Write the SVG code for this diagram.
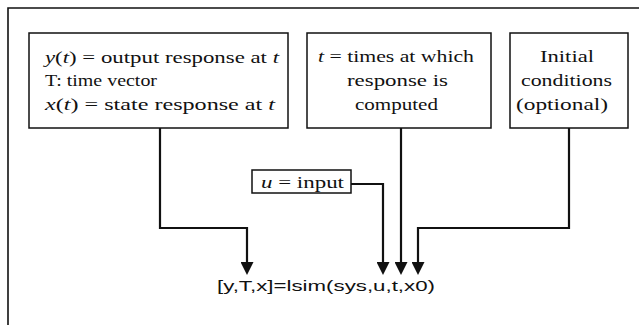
<svg xmlns="http://www.w3.org/2000/svg" width="639" height="325" viewBox="0 0 639 325">
<style>
.box{fill:#fff;stroke:#111;stroke-width:1.5}
.t{font-family:"Liberation Serif","Times New Roman",serif;font-size:17px;fill:#111}
.i{font-style:italic}
.c{fill:none;stroke:#111;stroke-width:2.2}
.m{font-family:"Liberation Sans",Arial,sans-serif;font-size:15.5px;fill:#111}
</style>
<defs>
<marker id="ah" markerUnits="userSpaceOnUse" markerWidth="13" markerHeight="13" viewBox="0 0 12 12" refX="0" refY="6" orient="auto">
<path d="M0,0 L12,6 L0,12 z" fill="#111"/>
</marker>
</defs>
<rect width="639" height="325" fill="#fff"/>
<path d="M8,325 V8 H639" fill="none" stroke="#111" stroke-width="1.6"/>
<g id="connectors">
<path class="c" d="M160,128 V228 H247 V262" marker-end="url(#ah)"/>
<path class="c" d="M351,184 H383 V262" marker-end="url(#ah)"/>
<path class="c" d="M401,128 V262" marker-end="url(#ah)"/>
<path class="c" d="M569,128 V228 H418 V262" marker-end="url(#ah)"/>
</g>
<g id="outputs">
<rect class="box" x="29" y="33" width="259" height="95"/>
<text class="t" x="45" y="63" textLength="234" lengthAdjust="spacingAndGlyphs"><tspan class="i">y</tspan>(<tspan class="i">t</tspan>) = output response at <tspan class="i">t</tspan></text>
<text class="t" x="45" y="86" textLength="112" lengthAdjust="spacingAndGlyphs">T: time vector</text>
<text class="t" x="45" y="110" textLength="230" lengthAdjust="spacingAndGlyphs"><tspan class="i">x</tspan>(<tspan class="i">t</tspan>) = state response at <tspan class="i">t</tspan></text>
</g>
<g id="times">
<rect class="box" x="307" y="33" width="184" height="95"/>
<text class="t" x="318" y="62" textLength="156" lengthAdjust="spacingAndGlyphs"><tspan class="i">t</tspan> = times at which</text>
<text class="t" x="347" y="86" textLength="101" lengthAdjust="spacingAndGlyphs">response is</text>
<text class="t" x="355" y="110" textLength="83" lengthAdjust="spacingAndGlyphs">computed</text>
</g>
<g id="initial">
<rect class="box" x="510" y="33" width="118" height="95"/>
<text class="t" x="540" y="62" textLength="54" lengthAdjust="spacingAndGlyphs">Initial</text>
<text class="t" x="521" y="86" textLength="91" lengthAdjust="spacingAndGlyphs">conditions</text>
<text class="t" x="516" y="110" textLength="92" lengthAdjust="spacingAndGlyphs">(optional)</text>
</g>
<g id="input">
<rect class="box" x="252" y="170" width="99" height="23"/>
<text class="t" x="261" y="188" textLength="83" lengthAdjust="spacingAndGlyphs"><tspan class="i">u</tspan> = input</text>
</g>
<g id="command">
<text class="m" x="217" y="291" textLength="218" lengthAdjust="spacingAndGlyphs">[y,T,x]=lsim(sys,u,t,x0)</text>
</g>
</svg>
